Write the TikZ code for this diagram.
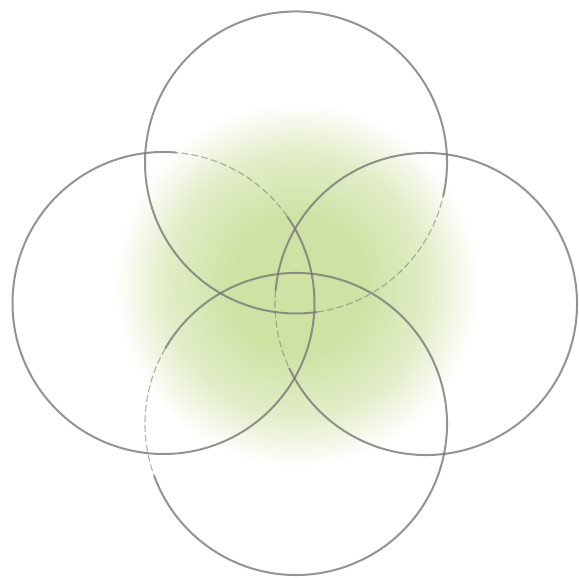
\documentclass[tikz,border=0pt]{standalone}
\usepackage{tikz}
\usetikzlibrary{calc}

\definecolor{glowgreen}{RGB}{206,226,163}
\definecolor{ringgray}{RGB}{120,120,120}
\pgfdeclareradialshading{glow}{\pgfpoint{0cm}{0cm}}{%
  color(0bp)=(glowgreen); color(9bp)=(glowgreen);
  color(18bp)=(glowgreen!60!white); color(25bp)=(white); color(50bp)=(white)}

\tikzset{
  ring/.style={draw=ringgray,line width=2pt,draw opacity=0.8},
  ringunder/.style={draw=ringgray,line width=1.2pt,draw opacity=0.55,dash pattern=on 7pt off 3pt}
}

\begin{document}
\begin{tikzpicture}[x=1pt,y=1pt]
  \useasboundingbox (0,0) rectangle (579,578);
  % Centres of the four rings, r = 151.
  \coordinate (T) at (296,415.5);
  \coordinate (L) at (163.5,275);
  \coordinate (R) at (426,274);
  \coordinate (B) at (296,154);
  % Green glow behind the rings.
  \shade[shading=glow] (297,293) circle (182);
  % Top ring: hidden part lower right.
  \draw[ring] ([shift={(-13:151)}]T) arc (-13:278:151);
  \draw[ringunder] ([shift={(-82:151)}]T) arc (-82:-13:151);
  % Left ring: hidden part upper right.
  \draw[ring] ([shift={(85:151)}]L) arc (85:395:151);
  \draw[ringunder] ([shift={(35:151)}]L) arc (35:85:151);
  % Bottom ring: hidden part left.
  \draw[ring] ([shift={(200:151)}]B) arc (200:510:151);
  \draw[ringunder] ([shift={(150:151)}]B) arc (150:200:151);
  % Right ring: hidden part left.
  \draw[ring] ([shift={(205:151)}]R) arc (205:535:151);
  \draw[ringunder] ([shift={(175:151)}]R) arc (175:205:151);
\end{tikzpicture}
\end{document}
